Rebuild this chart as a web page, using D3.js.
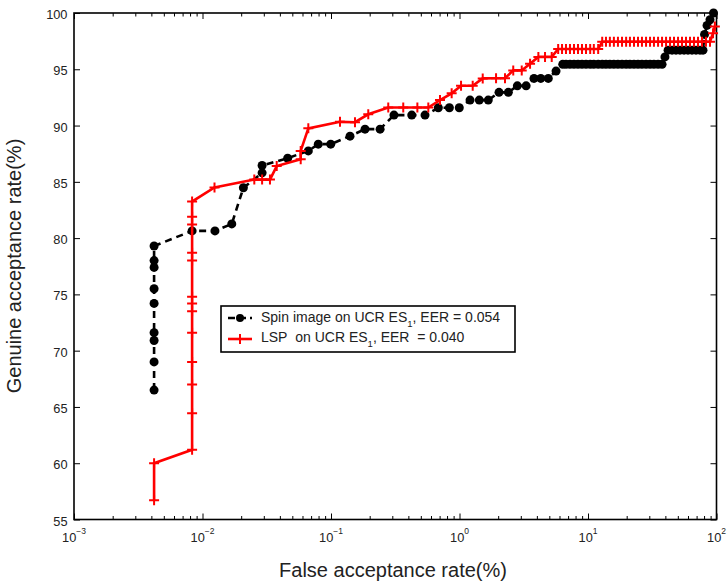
<!DOCTYPE html>
<html>
<head>
<meta charset="utf-8">
<script src="https://cdn.jsdelivr.net/npm/d3@7"></script>
<style>
  html, body { margin: 0; padding: 0; background: #fff; }
  svg { display: block; font-family: "Liberation Sans", Arial, Helvetica, sans-serif; }
</style>
</head>
<body>
<svg id="chart" width="727" height="584"></svg>
<script>
// ROC data: false acceptance rate (%) vs genuine acceptance rate (%)
const spinFar = [0.0042, 0.0042, 0.0042, 0.0042, 0.0042, 0.0042, 0.0042, 0.0042, 0.0042,
  0.0083, 0.0125, 0.0169, 0.0208, 0.0291, 0.0291, 0.046, 0.0666, 0.0796, 0.0995,
  0.1406, 0.184, 0.241, 0.309, 0.425, 0.539, 0.684, 0.834, 0.996, 1.208, 1.426, 1.675,
  2.03, 2.40, 2.82, 3.30, 3.80, 4.29, 4.91, 5.64, 6.36,
  6.74, 7.24, 7.78, 8.36, 8.98, 9.65, 10.4, 11.1, 12.0, 12.9, 13.8, 14.8, 15.9, 17.1,
  18.4, 19.8, 21.2, 22.8, 24.5, 26.3, 28.3, 30.4, 32.6, 35.1, 37.7,
  39.7, 42.0, 45.1, 48.4, 52.0, 55.9, 60.0, 64.5, 69.3, 74.4, 78.5,
  80.7, 84.4, 89.0, 94.8];
const spinGar = [66.5, 69.0, 70.9, 71.6, 74.2, 75.5, 77.4, 78.0, 79.3,
  80.64, 80.64, 81.26, 84.47, 85.8, 86.45, 87.1, 87.75, 88.35, 88.35,
  89.06, 89.68, 89.68, 90.93, 90.93, 90.93, 91.58, 91.58, 91.58, 92.26, 92.26, 92.26,
  92.95, 92.95, 93.53, 93.53, 94.19, 94.19, 94.19, 94.84, 95.44,
  95.44, 95.44, 95.44, 95.44, 95.44, 95.44, 95.44, 95.44, 95.44, 95.44, 95.44, 95.44, 95.44, 95.44,
  95.44, 95.44, 95.44, 95.44, 95.44, 95.44, 95.44, 95.44, 95.44, 95.44, 95.44,
  96.1, 96.7, 96.7, 96.7, 96.7, 96.7, 96.7, 96.7, 96.7, 96.7, 96.7,
  98.1, 98.9, 99.4, 100.0];

const lspFar = [0.0042, 0.0042, 0.0083, 0.0083, 0.0083, 0.0083, 0.0083, 0.0083, 0.0083,
  0.0083, 0.0083, 0.0083, 0.0083, 0.0083, 0.0083, 0.0124, 0.0253, 0.0291, 0.0335,
  0.0378, 0.0581, 0.0581, 0.0666, 0.1175, 0.1537, 0.195, 0.279, 0.365, 0.470, 0.572,
  0.705, 0.869, 1.028, 1.267, 1.516, 1.925, 2.26, 2.62, 3.05, 3.54, 4.11, 4.63, 5.22,
  5.86, 6.28, 6.74, 7.24, 7.78, 8.36, 8.98, 9.65, 10.4, 11.1, 12.0,
  12.9, 13.8, 14.8, 15.9, 17.1, 18.4, 19.8, 21.2, 22.8, 24.5, 26.3, 28.3, 30.4, 32.6,
  35.1, 37.7, 40.5, 43.5, 46.7, 50.2, 53.9, 57.9, 62.2, 66.8, 71.8, 77.1, 82.8, 89.0,
  94.0, 97.1];
const lspGar = [56.7, 60.0, 61.2, 64.45, 67.0, 69.0, 71.6, 73.5, 74.2,
  74.8, 78.0, 78.7, 81.2, 81.9, 83.25, 84.5, 85.2, 85.2, 85.2,
  86.4, 87.0, 87.75, 89.75, 90.33, 90.3, 91.0, 91.6, 91.6, 91.6, 91.6,
  92.26, 92.86, 93.53, 93.53, 94.19, 94.2, 94.2, 94.9, 94.9, 95.5, 96.1, 96.1, 96.1,
  96.8, 96.8, 96.8, 96.8, 96.8, 96.8, 96.8, 96.8, 96.8, 96.8, 96.8,
  97.45, 97.45, 97.45, 97.45, 97.45, 97.45, 97.45, 97.45, 97.45, 97.45, 97.45, 97.45, 97.45, 97.45,
  97.45, 97.45, 97.45, 97.45, 97.45, 97.45, 97.45, 97.45, 97.45, 97.45, 97.45, 97.45, 97.45, 97.45,
  98.2, 98.8];

const xDecades = [-3, -2, -1, 0, 1, 2];
const yTicks = [55, 60, 65, 70, 75, 80, 85, 90, 95, 100];
const legendLabels = [
  { main: "Spin image on UCR ES", sub: "1", rest: ", EER = 0.054" },
  { main: "LSP\u00a0 on UCR ES", sub: "1", rest: ", EER\u00a0 = 0.040" }
];

const svg = d3.select("#chart");
const m = { left: 74, right: 716.5, top: 13, bottom: 519.5 };

const x = d3.scaleLog().domain([1e-3, 1e2]).range([m.left, m.right]);
const y = d3.scaleLinear().domain([55, 100]).range([m.bottom, m.top]);

const majorX = xDecades.map(e => Math.pow(10, e));
const minorX = [];
xDecades.slice(0, -1).forEach(e => {
  for (let k = 2; k <= 9; k++) minorX.push(k * Math.pow(10, e));
});

// Axis ticks (pointing inward, on all four sides)
function tickAxis(axis, ticks, size, transform) {
  const g = svg.append("g").attr("transform", transform)
    .call(axis.tickValues(ticks).tickSize(size).tickFormat(() => ""));
  g.select(".domain").remove();
  g.selectAll("line").attr("stroke", "#000").attr("stroke-width", 1);
  return g;
}
tickAxis(d3.axisBottom(x), majorX, -6, `translate(0,${m.bottom})`);
tickAxis(d3.axisBottom(x), minorX, -3.5, `translate(0,${m.bottom})`);
tickAxis(d3.axisTop(x), majorX, -6, `translate(0,${m.top})`);
tickAxis(d3.axisTop(x), minorX, -3.5, `translate(0,${m.top})`);
tickAxis(d3.axisLeft(y), yTicks, -6, `translate(${m.left},0)`);
tickAxis(d3.axisRight(y), yTicks, -6, `translate(${m.right},0)`);

// Frame
svg.append("rect")
  .attr("x", m.left).attr("y", m.top)
  .attr("width", m.right - m.left).attr("height", m.bottom - m.top)
  .attr("fill", "none").attr("stroke", "#000").attr("stroke-width", 1.6);

// Y tick labels
svg.append("g").selectAll("text").data(yTicks).join("text")
  .attr("x", m.left - 6.5).attr("y", d => y(d) + 6)
  .attr("text-anchor", "end").attr("font-size", 12.8).attr("fill", "#222")
  .text(d => d);

// X tick labels: 10 with superscript exponent
const xl = svg.append("g").selectAll("text").data(xDecades).join("text")
  .attr("x", d => x(Math.pow(10, d))).attr("y", 542)
  .attr("text-anchor", "middle").attr("font-size", 12.8).attr("fill", "#222");
xl.append("tspan").text("10");
xl.append("tspan").attr("dy", -8).attr("font-size", 8.5)
  .text(d => d < 0 ? "\u2212" + (-d) : String(d));

// Axis titles
svg.append("text").attr("x", 393).attr("y", 577)
  .attr("text-anchor", "middle").attr("font-size", 20).attr("fill", "#222")
  .text("False acceptance rate(%)");
svg.append("text").attr("transform", "translate(21,266) rotate(-90)")
  .attr("text-anchor", "middle").attr("font-size", 20).attr("fill", "#222")
  .text("Genuine acceptance rate(%)");

const plot = svg.append("g");
const spin = spinFar.map((f, i) => [f, spinGar[i]]);
const lsp = lspFar.map((f, i) => [f, lspGar[i]]);
const line = d3.line().x(d => x(d[0])).y(d => y(d[1]));

// Spin image curve: dashed black with filled circles
plot.append("path").datum(spin).attr("d", line)
  .attr("fill", "none").attr("stroke", "#000").attr("stroke-width", 2.6)
  .attr("stroke-dasharray", "7,5");
plot.append("g").selectAll("circle").data(spin).join("circle")
  .attr("cx", d => x(d[0])).attr("cy", d => y(d[1])).attr("r", 4.5).attr("fill", "#000");

// LSP curve: solid red with plus markers
plot.append("path").datum(lsp).attr("d", line)
  .attr("fill", "none").attr("stroke", "#ff0000").attr("stroke-width", 2.6);
const cross = 5;
plot.append("g").selectAll("path").data(lsp).join("path")
  .attr("d", d => {
    const cx = x(d[0]), cy = y(d[1]);
    return `M${cx - cross},${cy}H${cx + cross}M${cx},${cy - cross}V${cy + cross}`;
  })
  .attr("stroke", "#ff0000").attr("stroke-width", 2);

// Legend
const lg = svg.append("g");
lg.append("rect").attr("x", 221).attr("y", 306).attr("width", 294).attr("height", 46)
  .attr("fill", "#fff").attr("stroke", "#000").attr("stroke-width", 1.6);
const sampleY = [318, 339];
const textY = [321.5, 342];
// sample for spin
lg.append("line").attr("x1", 228).attr("x2", 252).attr("y1", sampleY[0]).attr("y2", sampleY[0])
  .attr("stroke", "#000").attr("stroke-width", 2.6).attr("stroke-dasharray", "7,4");
lg.append("circle").attr("cx", 240).attr("cy", sampleY[0]).attr("r", 4).attr("fill", "#000");
// sample for lsp
lg.append("line").attr("x1", 228).attr("x2", 252).attr("y1", sampleY[1]).attr("y2", sampleY[1])
  .attr("stroke", "#ff0000").attr("stroke-width", 2.6);
lg.append("path")
  .attr("d", `M${240 - cross},${sampleY[1]}H${240 + cross}M240,${sampleY[1] - cross}V${sampleY[1] + cross}`)
  .attr("stroke", "#ff0000").attr("stroke-width", 2);
legendLabels.forEach((l, i) => {
  const t = lg.append("text").attr("x", 261).attr("y", textY[i])
    .attr("font-size", 14).attr("fill", "#222");
  t.append("tspan").text(l.main);
  t.append("tspan").attr("dy", 5).attr("font-size", 9.5).text(l.sub);
  t.append("tspan").attr("dy", -5).text(l.rest);
});
</script>
</body>
</html>
